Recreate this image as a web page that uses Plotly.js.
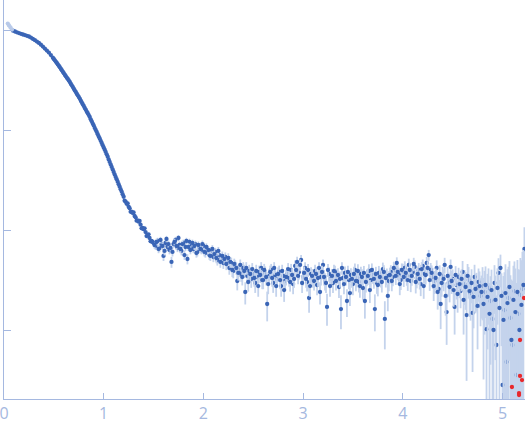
<!DOCTYPE html>
<html>
<head>
<meta charset="utf-8">
<script src="https://cdn.plot.ly/plotly-3.0.1.min.js"></script>
<style>
  html, body { margin: 0; padding: 0; background: #fff; }
  #graph { width: 525px; height: 437px; }
</style>
</head>
<body>
<div id="graph"></div>
<script>
// first points, drawn pale (excluded from fit)
var qExcl = [0.038, 0.050, 0.065, 0.080];
var iExcl = [1.16, 1.11, 1.06, 1.01];

// smooth Guinier / decay part
var qSmooth = [0.09,0.11,0.13,0.15,0.17,0.19,0.21,0.23,0.25,0.27,0.29,0.31,0.33,0.35,0.37,0.39,0.41,0.43,0.45,0.47,0.49,
  0.50,0.51,0.52,0.53,0.54,0.55,0.56,0.57,0.58,0.59,0.60,0.61,0.62,0.63,0.64,0.65,0.66,0.67,0.68,0.69,
  0.70,0.71,0.72,0.73,0.74,0.75,0.76,0.77,0.78,0.79,0.80,0.81,0.82,0.83,0.84,0.85,0.86,0.87,0.88,0.89,
  0.90,0.91,0.92,0.93,0.94,0.95,0.96,0.97,0.98,0.99,1.00,1.01,1.02,1.03,1.04,1.05,1.06,1.07,1.08,1.09,
  1.10,1.11,1.12,1.13,1.14,1.15,1.16,1.17,1.18,1.19,1.20,1.21,1.22,1.23,1.24,1.25,1.26,1.27,1.28,1.29,
  1.30,1.31,1.32,1.33,1.34,1.35,1.36,1.37,1.38,1.39,1.40,1.41,1.42,1.43,1.44,1.45,1.46,1.47,1.48,1.49];
var iSmooth = [0.984,0.966,0.948,0.931,0.916,0.902,0.889,0.875,0.861,0.839,0.815,0.791,0.766,0.743,0.713,0.682,0.652,0.622,0.594,0.562,0.528,
  0.513,0.497,0.482,0.468,0.453,0.440,0.425,0.410,0.396,0.383,0.370,0.357,0.345,0.333,0.324,0.313,0.302,0.290,0.280,0.269,
  0.259,0.249,0.240,0.231,0.222,0.214,0.206,0.197,0.189,0.181,0.174,0.166,0.160,0.153,0.147,0.141,0.135,0.128,0.122,0.116,
  0.111,0.105,0.100,0.0955,0.0908,0.0863,0.0822,0.0780,0.0741,0.0705,0.0668,0.0635,0.0603,0.0571,0.0540,0.0508,0.0480,0.0453,0.0427,0.0403,
  0.0380,0.0359,0.0339,0.0322,0.0304,0.0287,0.0271,0.0256,0.0242,0.0228,0.0215,0.0196,0.0192,0.0183,0.0185,0.0171,0.0165,0.0152,0.0153,0.0148,
  0.0150,0.0138,0.0134,0.0124,0.0125,0.0121,0.0123,0.0113,0.0104,0.0105,0.0102,0.0104,0.00953,0.00870,0.00891,0.00905,0.00832,0.00770,0.00776,0.00759];

// noisy plateau, with error bars (two interleaved reads of the cloud)
var qNoisy = [1.50,1.52,1.54,1.56,1.58,1.60,1.62,1.64,1.66,1.68,1.70,1.72,1.74,1.76,1.78,1.80,1.82,1.84,1.86,1.88,1.90,1.92,1.94,1.96,1.98,
  2.00,2.02,2.04,2.06,2.08,2.10,2.12,2.14,2.16,2.18,2.20,2.22,2.24,2.26,2.28,2.30,2.32,2.34,2.36,2.38,2.40,2.42,2.44,2.46,2.48,
  2.50,2.52,2.54,2.56,2.58,2.60,2.62,2.64,2.66,2.68,2.70,2.72,2.74,2.76,2.78,2.80,2.82,2.84,2.86,2.88,2.90,2.92,2.94,2.96,2.98,
  3.00,3.02,3.04,3.06,3.08,3.10,3.12,3.14,3.16,3.18,3.20,3.22,3.24,3.26,3.28,3.30,3.32,3.34,3.36,3.38,3.40,3.42,3.44,3.46,3.48,
  3.50,3.52,3.54,3.56,3.58,3.60,3.62,3.64,3.66,3.68,3.70,3.72,3.74,3.76,3.78,3.80,3.82,3.84,3.86,3.88,3.90,3.92,3.94,3.96,3.98,
  4.00,4.02,4.04,4.06,4.08,4.10,4.12,4.14,4.16,4.18,4.20,4.22,4.24,4.26,4.28,
  4.30,4.32,4.34,4.36,4.38,4.40,4.42,4.44,4.46,4.48,4.50,4.52,4.54,4.56,4.58,
  4.60,4.62,4.64,4.66,4.68,4.70,4.72,4.74,4.76,4.78,
  4.80,4.82,4.84,4.86,4.88,4.90,4.92,4.94,4.96,4.98,
  5.00,5.02,5.04,5.06,5.08,5.10,5.12,5.14,5.16,5.18,5.20,5.22];
var iNoisy = [0.00741,0.00692,0.00776,0.00661,0.00724,0.00550,0.00741,0.00676,0.00631,0.00479,0.00724,0.00794,0.00661,0.00708,0.00617,0.00741,0.00676,0.00513,0.00759,0.00692,0.00646,0.00724,0.00603,0.00676,0.00631,
  0.00692,0.00589,0.00646,0.00562,0.00617,0.00537,0.00603,0.00501,0.00562,0.00525,0.00468,0.00537,0.00490,0.00417,0.00468,0.00389,0.00437,0.00309,0.00398,0.00363,0.00417,0.00240,0.00347,0.00389,0.00324,
  0.00363,0.00295,0.00339,0.00380,0.00417,0.00316,0.00372,0.00182,0.00347,0.00398,0.00295,0.00355,0.00324,0.00380,0.00275,0.00347,0.00309,0.00363,0.00331,0.00398,0.00288,0.00437,0.00479,0.00380,0.00501,
  0.00339,0.00417,0.00302,0.00209,0.00363,0.00324,0.00389,0.00282,0.00417,0.00339,0.00447,0.00309,0.00170,0.00363,0.00324,0.00295,0.00380,0.00347,0.00269,0.00162,0.00331,0.00372,0.00195,0.00316,0.00355,
  0.00288,0.00398,0.00331,0.00302,0.00363,0.00263,0.00195,0.00339,0.00389,0.00316,0.00355,0.00162,0.00295,0.00372,0.00331,0.00407,0.00129,0.00347,0.00309,0.00380,0.00339,0.00398,0.00468,0.00355,0.00316,
  0.00389,0.00417,0.00347,0.00447,0.00309,0.00380,0.00427,0.00331,0.00398,0.00288,0.00437,0.00363,0.00468,0.00562,0.00398,
  0.00339,0.00309,0.00417,0.00257,0.00182,0.00347,0.00447,0.00151,0.00295,0.00427,0.00324,0.00170,0.00282,0.00339,0.00245,
  0.00380,0.00288,0.00141,0.00316,0.00234,0.00148,0.00339,0.00263,0.00302,0.00219,
  0.00275,0.00240,0.00102,0.00263,0.00195,0.00129,0.00295,0.000708,0.00372,0.00417,
  0.000282,0.00158,0.000479,0.00209,0.00132,0.000708,0.00245,0.000355,0.00145,0.00224,0.00257,0.00646];
var errNoisy = [0.0006,0.0006,0.0006,0.0006,0.0006,0.0006,0.0006,0.0006,0.0006,0.0006,0.0006,0.0006,0.0006,0.0006,0.0006,0.0006,0.0006,0.0006,0.0006,0.0006,0.0006,0.0006,0.0006,0.0006,0.0006,
  0.0006,0.0006,0.0006,0.0006,0.0006,0.0006,0.0006,0.0006,0.0006,0.0006,0.0006,0.0006,0.0006,0.0006,0.0006,0.0006,0.0006,0.0006,0.0006,0.0006,0.0006,0.0006,0.0006,0.0006,0.0006,
  0.0006,0.0006,0.0006,0.0006,0.0006,0.0006,0.0006,0.0006,0.0006,0.0006,0.0006,0.0006,0.0006,0.0006,0.0006,0.0006,0.0006,0.0006,0.0006,0.0006,0.0006,0.0006,0.0006,0.0006,0.0006,
  0.0006,0.0006,0.0006,0.0006,0.0006,0.0006,0.0006,0.0006,0.0006,0.0006,0.0006,0.0006,0.0006,0.0006,0.0006,0.0006,0.0006,0.0006,0.0006,0.0006,0.0006,0.0006,0.0006,0.0006,0.0006,
  0.00065,0.00065,0.00065,0.00065,0.00065,0.00065,0.00065,0.00065,0.00065,0.00065,0.00065,0.00065,0.00065,0.00065,0.00065,0.00065,0.00065,0.00065,0.00065,0.00065,0.00065,0.00065,0.00065,0.00065,0.00065,
  0.0007,0.0007,0.0007,0.0007,0.0007,0.0007,0.0007,0.0007,0.0007,0.0007,0.0007,0.0007,0.0007,0.0007,0.0007,
  0.0008,0.0008,0.0008,0.0008,0.0008,0.0008,0.0008,0.0008,0.0008,0.0008,0.0008,0.0008,0.0008,0.0008,0.0008,
  0.0011,0.0011,0.0011,0.0011,0.0011,0.0011,0.0011,0.0011,0.0011,0.0011,
  0.0015,0.0015,0.0015,0.0015,0.0015,0.0015,0.0015,0.0015,0.0015,0.0015,
  0.0022,0.0022,0.0022,0.0022,0.0022,0.0024,0.0024,0.0026,0.0026,0.003,0.0035,0.0042];

var qNoisy2 = [1.51,1.53,1.55,1.57,1.59,1.61,1.63,1.65,1.67,1.69,1.71,1.73,1.75,1.77,1.79,1.81,1.83,1.85,1.87,1.89,1.91,1.93,1.95,1.97,1.99,
  2.01,2.03,2.05,2.07,2.09,2.11,2.13,2.15,2.17,2.19,2.21,2.23,2.25,2.27,2.29,2.31,2.33,2.35,2.37,2.39,2.41,2.43,2.45,2.47,2.49,
  2.51,2.53,2.55,2.57,2.59,2.61,2.63,2.65,2.67,2.69,2.71,2.73,2.75,2.77,2.79,2.81,2.83,2.85,2.87,2.89,2.91,2.93,2.95,2.97,2.99,
  3.01,3.03,3.05,3.07,3.09,3.11,3.13,3.15,3.17,3.19,3.21,3.23,3.25,3.27,3.29,3.31,3.33,3.35,3.37,3.39,3.41,3.43,3.45,3.47,3.49,
  3.51,3.53,3.55,3.57,3.59,3.61,3.63,3.65,3.67,3.69,3.71,3.73,3.75,3.77,3.79,3.81,3.83,3.85,3.87,3.89,3.91,3.93,3.95,3.97,3.99,
  4.01,4.03,4.05,4.07,4.09,4.11,4.13,4.15,4.17,4.19,4.21,4.23,4.25,4.27,4.29,
  4.31,4.33,4.35,4.37,4.39,4.41,4.43,4.45,4.47,4.49,4.51,4.53,4.55,4.57,4.59,
  4.61,4.63,4.65,4.67,4.69,4.71,4.73,4.75,4.77,4.79,
  4.81,4.83,4.85,4.87,4.89,4.91,4.93,4.95,4.97,4.99,
  5.01,5.03,5.05,5.07,5.09,5.11,5.13,5.15,5.17,5.19,5.21];
var iNoisy2 = [0.00708,0.00759,0.00646,0.00794,0.00692,0.00617,0.00813,0.00724,0.00661,0.00603,0.00759,0.00692,0.00832,0.00646,0.00724,0.00562,0.00776,0.00676,0.00631,0.00741,0.00692,0.00589,0.00708,0.00646,0.00724,
  0.00603,0.00676,0.00631,0.00550,0.00646,0.00575,0.00525,0.00617,0.00479,0.00550,0.00513,0.00457,0.00525,0.00479,0.00398,0.00457,0.00417,0.00372,0.00447,0.00339,0.00389,0.00417,0.00302,0.00363,0.00407,
  0.00331,0.00389,0.00275,0.00355,0.00316,0.00398,0.00339,0.00288,0.00380,0.00331,0.00417,0.00275,0.00363,0.00316,0.00389,0.00251,0.00339,0.00407,0.00302,0.00355,0.00324,0.00398,0.00347,0.00447,0.00295,
  0.00372,0.00324,0.00398,0.00275,0.00347,0.00309,0.00363,0.00331,0.00240,0.00380,0.00339,0.00295,0.00398,0.00275,0.00347,0.00389,0.00309,0.00355,0.00324,0.00417,0.00288,0.00339,0.00380,0.00234,0.00324,
  0.00363,0.00309,0.00389,0.00275,0.00339,0.00372,0.00302,0.00347,0.00251,0.00398,0.00324,0.00363,0.00282,0.00339,0.00302,0.00380,0.00331,0.00219,0.00355,0.00309,0.00417,0.00347,0.00380,0.00288,0.00398,
  0.00339,0.00372,0.00316,0.00398,0.00347,0.00457,0.00302,0.00363,0.00324,0.00407,0.00275,0.00355,0.00417,0.00316,0.00372,
  0.00275,0.00331,0.00240,0.00363,0.00295,0.00324,0.00219,0.00347,0.00269,0.00309,0.00251,0.00355,0.00229,0.00288,0.00324,
  0.00200,0.00269,0.00347,0.00245,0.00295,0.00214,0.00257,0.00174,0.00275,0.00240,
  0.00182,0.00282,0.00214,0.00145,0.00251,0.00100,0.00200,0.00263,0.00166,0.00219,
  0.00126,0.00234,0.00186,0.00269,0.000794,0.00200,0.00151,0.00240,0.00100,0.00178,0.00282];
var errNoisy2 = [0.0006,0.0006,0.0006,0.0006,0.0006,0.0006,0.0006,0.0006,0.0006,0.0006,0.0006,0.0006,0.0006,0.0006,0.0006,0.0006,0.0006,0.0006,0.0006,0.0006,0.0006,0.0006,0.0006,0.0006,0.0006,
  0.0006,0.0006,0.0006,0.0006,0.0006,0.0006,0.0006,0.0006,0.0006,0.0006,0.0006,0.0006,0.0006,0.0006,0.0006,0.0006,0.0006,0.0006,0.0006,0.0006,0.0006,0.0006,0.0006,0.0006,0.0006,
  0.0006,0.0006,0.0006,0.0006,0.0006,0.0006,0.0006,0.0006,0.0006,0.0006,0.0006,0.0006,0.0006,0.0006,0.0006,0.0006,0.0006,0.0006,0.0006,0.0006,0.0006,0.0006,0.0006,0.0006,0.0006,
  0.0006,0.0006,0.0006,0.0006,0.0006,0.0006,0.0006,0.0006,0.0006,0.0006,0.0006,0.0006,0.0006,0.0006,0.0006,0.0006,0.0006,0.0006,0.0006,0.0006,0.0006,0.0006,0.0006,0.0006,0.0006,
  0.00065,0.00065,0.00065,0.00065,0.00065,0.00065,0.00065,0.00065,0.00065,0.00065,0.00065,0.00065,0.00065,0.00065,0.00065,0.00065,0.00065,0.00065,0.00065,0.00065,0.00065,0.00065,0.00065,0.00065,0.00065,
  0.0007,0.0007,0.0007,0.0007,0.0007,0.0007,0.0007,0.0007,0.0007,0.0007,0.0007,0.0007,0.0007,0.0007,0.0007,
  0.0008,0.0008,0.0008,0.0008,0.0008,0.0008,0.0008,0.0008,0.0008,0.0008,0.0008,0.0008,0.0008,0.0008,0.0008,
  0.0011,0.0011,0.0011,0.0011,0.0011,0.0011,0.0011,0.0011,0.0011,0.0011,
  0.0015,0.0015,0.0015,0.0015,0.0015,0.0015,0.0015,0.0015,0.0015,0.0015,
  0.0022,0.0022,0.0022,0.0022,0.0024,0.0024,0.0026,0.0026,0.003,0.0032,0.0035];

// flagged outliers at the end (red)
var qOut = [5.095, 5.166, 5.166, 5.176, 5.176, 5.196, 5.216];
var iOut = [0.000269, 0.000234, 0.000224, 0.000794, 0.000347, 0.000316, 0.00209];

var axisCol = '#a5b8e0';
var blue = '#3a65b6';
var errStyle = function (arr) {
  return {type: 'data', array: arr, visible: true, color: '#c4d3ec', thickness: 1.8, width: 0};
};

var traces = [
  {
    x: qNoisy, y: iNoisy, type: 'scatter', mode: 'markers',
    marker: {color: blue, size: 4.3},
    error_y: errStyle(errNoisy)
  },
  {
    x: qNoisy2, y: iNoisy2, type: 'scatter', mode: 'markers',
    marker: {color: blue, size: 4.3},
    error_y: errStyle(errNoisy2)
  },
  {
    x: qSmooth, y: iSmooth, type: 'scatter', mode: 'markers',
    marker: {color: blue, size: 4.3}
  },
  {
    x: qExcl, y: iExcl, type: 'scatter', mode: 'markers',
    marker: {color: '#b9cae9', size: 4.3}
  },
  {
    x: qOut, y: iOut, type: 'scatter', mode: 'markers',
    marker: {color: '#e8282c', size: 4.3}
  }
];

var layout = {
  width: 525, height: 437,
  margin: {l: 4, r: 0, t: 0, b: 38},
  paper_bgcolor: '#fff', plot_bgcolor: '#fff',
  showlegend: false,
  font: {family: '"Open Sans", "DejaVu Sans", sans-serif', color: axisCol},
  xaxis: {
    range: [0, 5.226], tick0: 0, dtick: 1,
    showgrid: false, zeroline: false,
    showline: true, linecolor: axisCol, linewidth: 1,
    ticks: 'inside', ticklen: 6, tickcolor: axisCol, tickwidth: 1,
    ticklabeloverflow: 'allow',
    tickfont: {size: 16, color: axisCol}
  },
  yaxis: {
    type: 'log', range: [-3.69, 0.30], dtick: 1,
    showgrid: false, zeroline: false,
    showline: true, linecolor: axisCol, linewidth: 1,
    ticks: 'inside', ticklen: 7, tickcolor: axisCol, tickwidth: 1,
    showticklabels: false
  }
};

Plotly.newPlot('graph', traces, layout, {displayModeBar: false, staticPlot: true});
</script>
</body>
</html>
